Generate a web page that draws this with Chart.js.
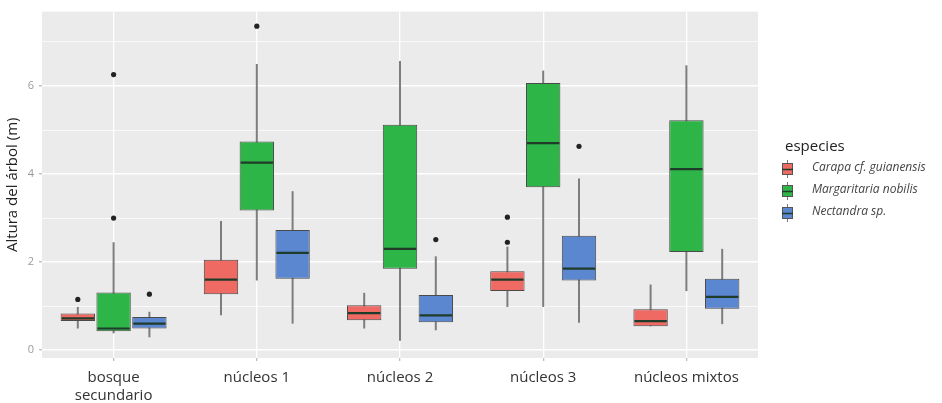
<!DOCTYPE html>
<html>
<head>
<meta charset="utf-8">
<script src="https://cdn.jsdelivr.net/npm/chart.js@4.4.1/dist/chart.umd.min.js"></script>
<style>
  html, body { margin: 0; padding: 0; background: #fff; }
  #wrap { width: 942px; height: 403px; }
</style>
</head>
<body>
<div id="wrap"><canvas id="myChart"></canvas></div>
<script>
var sitios = [['bosque', 'secundario'], 'núcleos 1', 'núcleos 2', 'núcleos 3', 'núcleos mixtos'];
var especies = ['Carapa cf. guianensis', 'Margaritaria nobilis', 'Nectandra sp.'];
var colores = ['#EE6A63', '#2EB548', '#5B86D0'];

// [whisker low, q1, median, q3, whisker high] per site
var carapa = [
    [0.49, 0.66, 0.72, 0.83, 0.98],
    [0.79, 1.27, 1.60, 2.05, 2.93],
    [0.49, 0.68, 0.84, 1.02, 1.30],
    [0.98, 1.34, 1.60, 1.79, 2.35],
    [0.54, 0.54, 0.66, 0.93, 1.49]
];
var margaritaria = [
    [0.38, 0.43, 0.49, 1.31, 2.45],
    [1.58, 3.17, 4.26, 4.74, 6.50],
    [0.21, 1.85, 2.30, 5.12, 6.57],
    [0.98, 3.70, 4.70, 6.07, 6.35],
    [1.34, 2.23, 4.11, 5.22, 6.47]
];
var nectandra = [
    [0.29, 0.49, 0.60, 0.75, 0.87],
    [0.60, 1.62, 2.21, 2.73, 3.61],
    [0.45, 0.63, 0.79, 1.25, 2.13],
    [0.62, 1.58, 1.85, 2.60, 3.90],
    [0.59, 0.94, 1.21, 1.62, 2.30]
];
// outliers per site
var carapaAtipicos = [[1.15], [], [], [2.45, 3.02], []];
var margaritariaAtipicos = [[3.0, 6.26], [7.36], [], [], []];
var nectandraAtipicos = [[1.27], [], [2.51], [4.63], []];

var yTicks = [0, 2, 4, 6];

var series = [carapa, margaritaria, nectandra];
var atipicos = [carapaAtipicos, margaritariaAtipicos, nectandraAtipicos];

var boxPlugin = {
    id: 'boxPlugin',
    beforeDraw: function (chart) {
        var a = chart.chartArea, c = chart.ctx;
        c.save();
        c.fillStyle = '#EBEBEB';
        c.fillRect(a.left, a.top, a.right - a.left, a.bottom - a.top);
        c.restore();
    },
    beforeDatasetsDraw: function (chart) {
        var c = chart.ctx, y = chart.scales.y;
        c.save();
        c.strokeStyle = '#7d7d7d';
        c.lineWidth = 2;
        series.forEach(function (s, i) {
            var meta = chart.getDatasetMeta(i);
            s.forEach(function (v, j) {
                var bar = meta.data[j];
                c.beginPath();
                c.moveTo(bar.x, y.getPixelForValue(v[0]));
                c.lineTo(bar.x, y.getPixelForValue(v[4]));
                c.stroke();
            });
        });
        c.restore();
    },
    afterDatasetsDraw: function (chart) {
        var c = chart.ctx, y = chart.scales.y;
        c.save();
        series.forEach(function (s, i) {
            var meta = chart.getDatasetMeta(i);
            s.forEach(function (v, j) {
                var bar = meta.data[j];
                var half = bar.width / 2;
                var py = y.getPixelForValue(v[2]);
                c.strokeStyle = '#1f3b2a';
                c.lineWidth = 2.2;
                c.beginPath();
                c.moveTo(bar.x - half + 1, py);
                c.lineTo(bar.x + half - 1, py);
                c.stroke();
                c.fillStyle = '#222';
                atipicos[i][j].forEach(function (o) {
                    c.beginPath();
                    c.arc(bar.x, y.getPixelForValue(o), 2.6, 0, Math.PI * 2);
                    c.fill();
                });
            });
        });
        c.restore();
    },
    afterDraw: function (chart) {
        var c = chart.ctx;
        c.save();
        c.fillStyle = '#222';
        c.font = '15px "Open Sans", sans-serif';
        c.textBaseline = 'middle';
        c.fillText('especies', 785, 147);
        especies.forEach(function (e, i) {
            var cy = 169 + i * 22;
            c.strokeStyle = '#777';
            c.lineWidth = 1;
            c.beginPath();
            c.moveTo(787.5, cy - 9);
            c.lineTo(787.5, cy + 9);
            c.stroke();
            c.fillStyle = colores[i];
            c.fillRect(782, cy - 6, 11, 12);
            c.strokeStyle = '#555';
            c.strokeRect(782.5, cy - 5.5, 10, 11);
            c.strokeStyle = '#1f3b2a';
            c.lineWidth = 1.5;
            c.beginPath();
            c.moveTo(782, cy + 0.5);
            c.lineTo(793, cy + 0.5);
            c.stroke();
            c.fillStyle = '#444';
            c.font = 'italic 12px "Open Sans", sans-serif';
            c.fillText(e, 812, cy - 1);
        });
        c.restore();
    }
};

var datasets = series.map(function (s, i) {
    return {
        label: especies[i],
        data: s.map(function (v) { return [v[1], v[3]]; }),
        backgroundColor: colores[i],
        borderColor: '#4a4a4a',
        borderWidth: 1,
        borderSkipped: false,
        categoryPercentage: 0.75,
        barPercentage: 0.96
    };
});

var ctx = document.getElementById('myChart').getContext('2d');
var myChart = new Chart(ctx, {
    type: 'bar',
    data: {
        labels: sitios,
        datasets: datasets
    },
    options: {
        responsive: true,
        maintainAspectRatio: false,
        animation: false,
        layout: {
            padding: { left: 0, right: 184, top: 10, bottom: 0 }
        },
        plugins: {
            legend: { display: false },
            tooltip: { enabled: false }
        },
        scales: {
            x: {
                grid: {
                    offset: false,
                    color: '#ffffff',
                    lineWidth: 1.3,
                    tickColor: '#bdbdbd',
                    tickLength: 3,
                    drawTicks: true
                },
                border: { display: false },
                ticks: {
                    color: '#333',
                    font: { family: '"Open Sans", sans-serif', size: 15 },
                    padding: 8,
                    maxRotation: 0
                },
                afterFit: function (scale) { scale.height = 45; }
            },
            y: {
                min: -0.18,
                max: 7.69,
                afterBuildTicks: function (scale) {
                    scale.ticks = [0, 1, 2, 3, 4, 5, 6, 7].map(function (v) { return { value: v }; });
                },
                grid: {
                    color: '#ffffff',
                    lineWidth: function (c) { return c.tick && c.tick.value % 2 === 0 ? 1.4 : 0.7; },
                    tickColor: function (c) { return c.tick && c.tick.value % 2 === 0 ? '#bdbdbd' : 'rgba(0,0,0,0)'; },
                    tickLength: 3
                },
                border: { display: false },
                ticks: {
                    color: '#9a9a9a',
                    font: { family: '"Open Sans", sans-serif', size: 11 },
                    padding: 5,
                    callback: function (v) { return yTicks.indexOf(v) >= 0 ? String(v) : ''; }
                },
                title: {
                    display: true,
                    text: 'Altura del árbol (m)',
                    color: '#222',
                    font: { family: '"Open Sans", sans-serif', size: 15 },
                    padding: { top: 4, bottom: 0 }
                },
                afterFit: function (scale) { scale.width = 42; }
            }
        }
    },
    plugins: [boxPlugin]
});
</script>
</body>
</html>
